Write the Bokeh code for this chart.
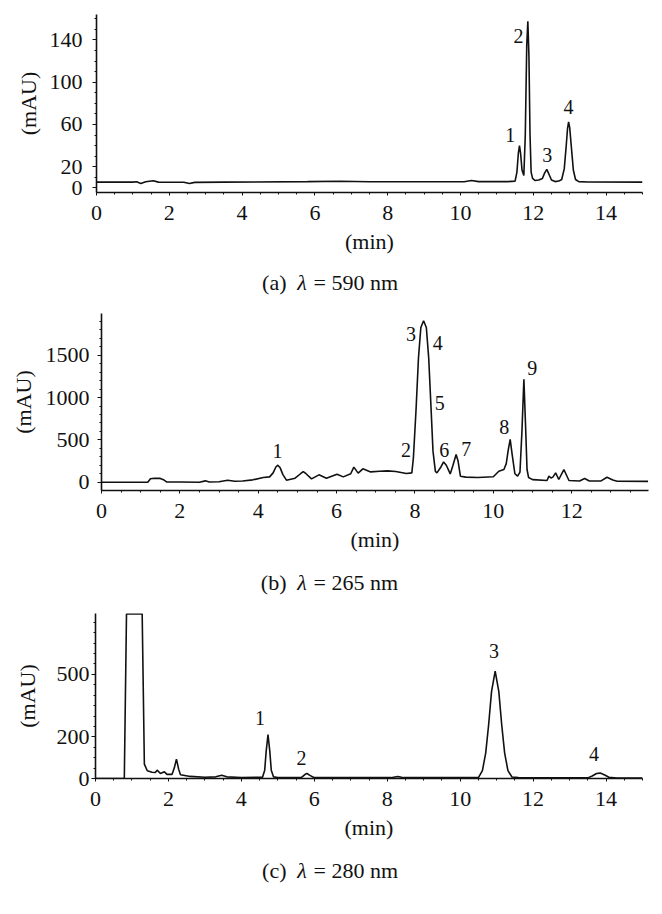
from bokeh.plotting import figure
from bokeh.models import FixedTicker, Range1d
from bokeh.layouts import column, row
from bokeh.embed import file_html
from bokeh.resources import INLINE
from bokeh.core.properties import value

FONT = "Liberation Serif"
FS = "22px"
FS_PEAK = "20px"
INK = "#111111"

# ---------------- data ----------------
# (a) lambda = 590 nm
a_time = [0, 1.0, 1.1, 1.22, 1.35, 1.56, 1.7, 2.4, 2.55, 2.7, 3.5, 5.8, 6.7, 7.5, 10.1, 10.3,
          10.5, 11.3, 11.5, 11.55, 11.59, 11.62, 11.65, 11.69, 11.74, 11.78, 11.82, 11.85,
          11.88, 11.91, 11.94, 11.98, 12.05, 12.15, 12.25, 12.31, 12.37, 12.43, 12.5, 12.6,
          12.7, 12.78, 12.85, 12.9, 12.94, 12.97, 13.0, 13.05, 13.1, 13.16, 13.25, 13.5, 15.0]
a_mau = [5.5, 5.5, 5.8, 4.2, 5.8, 6.8, 5.5, 5.4, 4.2, 5.3, 5.5, 6.0, 6.3, 5.8, 5.8, 7.0,
         6.0, 6.0, 6.5, 15, 33, 40, 33, 17, 11.8, 50, 135, 157.7,
         125, 50, 15, 9, 7, 7.5, 9, 14, 17.5, 13, 7.5, 6,
         6.5, 8, 18, 38, 56, 62.5, 57, 37, 17, 8, 6, 5.6, 5.5]
a_peak_labels = ["1", "2", "3", "4"]
a_peak_x = [11.37, 11.59, 12.38, 12.97]
a_peak_y = [49.6, 144, 30.7, 76.4]
a_yticks = [0, 20, 60, 100, 140]

# (b) lambda = 265 nm
b_time = [0, 1.18, 1.25, 1.35, 1.5, 1.58, 1.66, 2.0, 2.5, 2.65, 2.75, 3.0, 3.22, 3.4, 3.6,
          3.86, 4.13, 4.29, 4.38, 4.45, 4.5, 4.56, 4.63, 4.72, 4.94, 5.08, 5.15, 5.22, 5.36,
          5.55, 5.74, 6.01, 6.17, 6.36, 6.44, 6.55, 6.67, 6.87, 7.1, 7.3, 7.51, 7.78, 7.92,
          7.96, 8.03, 8.09, 8.15, 8.22, 8.29, 8.35, 8.41, 8.46, 8.52, 8.56, 8.65, 8.73, 8.8,
          8.9, 8.97, 9.05, 9.1, 9.16, 9.3, 9.6, 10.0, 10.14, 10.27, 10.33, 10.38, 10.43,
          10.48, 10.55, 10.62, 10.68, 10.73, 10.78, 10.82, 10.86, 10.9, 11.0, 11.37, 11.42,
          11.47, 11.52, 11.59, 11.67, 11.8, 11.93, 12.2, 12.33, 12.45, 12.75, 12.9, 13.05,
          13.16, 13.95]
b_mau = [0, 0, 40, 47, 45, 30, 3, 2, 0, 16, 3, 5, 24, 12, 15,
         28, 55, 63, 110, 180, 201, 170, 90, 24, 47, 100, 126, 100, 39,
         87, 47, 95, 63, 100, 178, 107, 158, 122, 130, 134, 126, 103, 110,
         288, 880, 1473, 1828, 1908, 1828, 1473, 880, 367, 130, 110, 170, 240, 200,
         98, 200, 328, 250, 71, 60, 55, 65, 130, 150, 220, 380, 506,
         330, 100, 71, 120, 600, 1217, 700, 150, 55, 30, 20, 71,
         50, 60, 110, 32, 150, 20, 15, 44, 15, 15, 59, 25,
         12, 10]
b_peak_labels = ["1", "2", "3", "4", "5", "6", "7", "8", "9"]
b_peak_x = [4.49, 7.77, 7.9, 8.58, 8.63, 8.75, 9.31, 10.28, 10.99]
b_peak_y = [371, 375, 1757, 1650, 940, 375, 387, 652, 1347]
b_yticks = [0, 500, 1000, 1500]

# (c) lambda = 280 nm
c_time = [0, 0.79, 0.85, 1.28, 1.34, 1.42, 1.55, 1.64, 1.69, 1.78, 1.89, 1.96, 2.1, 2.16,
          2.22, 2.28, 2.33, 2.6, 3.0, 3.3, 3.46, 3.6, 4.0, 4.58, 4.64, 4.68, 4.73, 4.78,
          4.82, 4.88, 5.0, 5.65, 5.75, 5.8, 5.88, 6.0, 8.1, 8.29, 8.45, 10.5, 10.61, 10.7,
          10.78, 10.86, 10.96, 11.06, 11.14, 11.22, 11.31, 11.42, 11.6, 13.5, 13.62, 13.74,
          13.84, 13.95, 14.08, 14.3, 15.0]
c_mau = [0, 0, 790, 790, 69, 37, 30, 29, 40, 24, 32, 20, 20, 50,
         93, 45, 18, 10, 6, 8, 16, 8, 5, 6, 40, 130, 211, 130,
         40, 8, 5, 5, 20, 24, 15, 4, 4, 10, 4, 4, 38, 122,
         257, 417, 515, 417, 257, 122, 38, 7, 4, 3, 12, 24,
         26, 18, 6, 2, 2]
c_peak_labels = ["1", "2", "3", "4"]
c_peak_x = [4.51, 5.65, 10.93, 13.67]
c_peak_y = [292, 100, 611, 120]
c_yticks = [0, 200, 500]

x_ticks = [0, 2, 4, 6, 8, 10, 12, 14]

captions = [("(a)", "590 nm"), ("(b)", "265 nm"), ("(c)", "280 nm")]

assert len(a_time) == len(a_mau)
assert len(b_time) == len(b_mau)
assert len(c_time) == len(c_mau)

W = 662


def frange(a, b, step):
    out = []
    v = a
    while v <= b + 1e-9:
        out.append(round(v, 6))
        v += step
    return out


def panel(t, v, xr, yr, yticks, yminor_step, labels, lx, ly, height,
          b_top, b_bottom, b_left, b_right, ylab_standoff, ylabel_standoff):
    p = figure(width=W, height=height, x_range=Range1d(*xr), y_range=Range1d(*yr),
               output_backend="svg", toolbar_location=None,
               min_border_top=b_top, min_border_bottom=b_bottom,
               min_border_left=b_left, min_border_right=b_right)
    p.outline_line_color = None
    p.xgrid.visible = False
    p.ygrid.visible = False

    p.line(t, v, line_color=INK, line_width=1.6)
    p.text(x=lx, y=ly, text=labels, text_align="center", text_baseline="middle",
           text_font=value(FONT), text_font_size=FS_PEAK, text_color=INK)

    p.xaxis.ticker = FixedTicker(ticks=x_ticks, minor_ticks=frange(0, 15, 0.5))
    p.yaxis.ticker = FixedTicker(ticks=yticks, minor_ticks=frange(0, yr[1], yminor_step))
    for ax in (p.xaxis[0], p.yaxis[0]):
        ax.axis_line_color = INK
        ax.axis_line_width = 1.6
        ax.major_tick_in = 0
        ax.minor_tick_in = 0
        ax.major_tick_line_color = INK
        ax.minor_tick_line_color = INK
        ax.major_label_text_font = FONT
        ax.major_label_text_font_size = FS
        ax.major_label_text_color = INK
        ax.axis_label_text_font = FONT
        ax.axis_label_text_font_size = FS
        ax.axis_label_text_font_style = "normal"
        ax.axis_label_text_color = INK
    p.xaxis.major_tick_out = 3
    p.xaxis.minor_tick_out = 2
    p.yaxis.major_tick_out = 4
    p.yaxis.minor_tick_out = 2
    p.xaxis.axis_label = "(min)"
    p.yaxis.axis_label = "(mAU)"
    p.xaxis.major_label_standoff = 10
    p.xaxis.axis_label_standoff = 6
    p.yaxis.major_label_standoff = ylab_standoff
    p.yaxis.axis_label_standoff = ylabel_standoff
    return p


def caption(tag, nm, height, cy):
    c = figure(width=W, height=height, x_range=Range1d(0, W), y_range=Range1d(0, height),
               output_backend="svg", toolbar_location=None, min_border=0)
    c.axis.visible = False
    c.grid.visible = False
    c.outline_line_color = None
    common = dict(text_font=value(FONT), text_font_size=FS, text_color=INK,
                  text_baseline="middle")
    c.text(x=[286], y=[cy], text=[tag], text_align="right", **common)
    c.text(x=[301.5], y=[cy], text=["\u03bb"], text_align="center",
           text_font_style="italic", **common)
    c.text(x=[313], y=[cy], text=["= " + nm], text_align="left", **common)
    return c


pa = panel(a_time, a_mau, (0, 15), (-4.3, 164), a_yticks, 10,
           a_peak_labels, a_peak_x, a_peak_y, 262,
           14, 70, 96, 20, 10, 6)
ca = caption(*captions[0], 38, 18)
pb = panel(b_time, b_mau, (0, 13.96), (-98, 1994), b_yticks, 100,
           b_peak_labels, b_peak_x, b_peak_y, 262,
           13, 72, 101, 14, 8, 7)
cb = caption(*captions[1], 38, 18)
pc = panel(c_time, c_mau, (0, 15), (0, 792), c_yticks, 50,
           c_peak_labels, c_peak_x, c_peak_y, 252,
           13, 74, 95, 20, 2, 14)
cc = caption(*captions[2], 38, 20)

# each panel wrapped in its own row so that the column does not line up their frames
layout = column(row(pa), ca, row(pb), cb, row(pc), cc, spacing=0)
open("out.html", "w").write(file_html(layout, INLINE))
